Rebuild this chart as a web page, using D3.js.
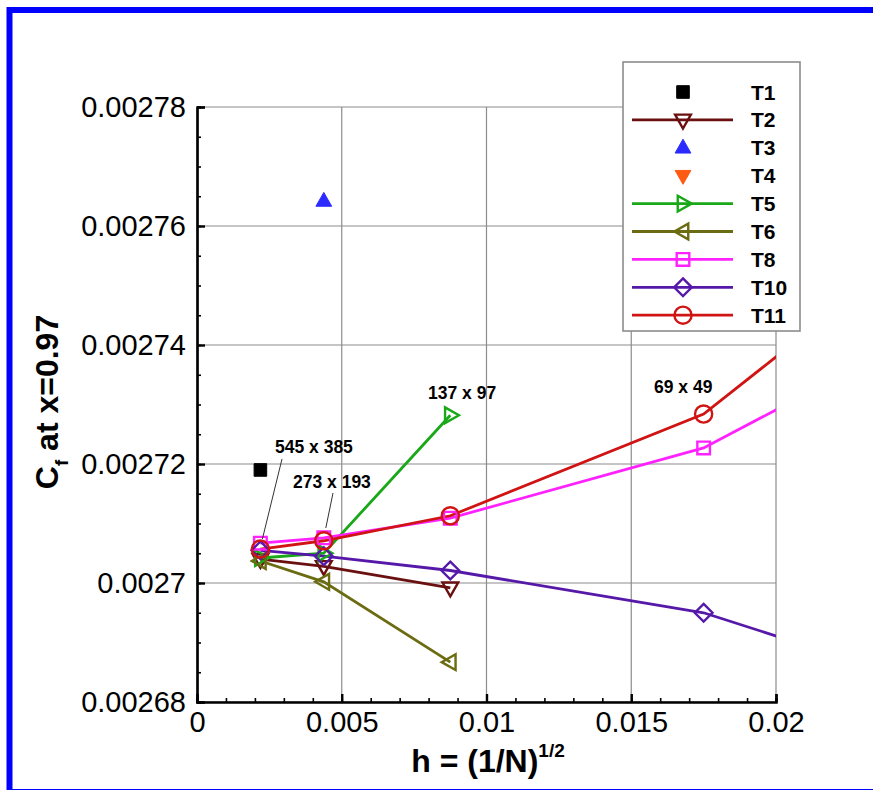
<!DOCTYPE html>
<html>
<head>
<meta charset="utf-8">
<script src="https://cdn.jsdelivr.net/npm/d3@7"></script>
<style>
  html, body { margin: 0; padding: 0; background: #fff; }
  svg { display: block; font-family: "Liberation Sans", Arial, Helvetica, sans-serif; }
</style>
</head>
<body>
<svg id="chart" width="873" height="790"></svg>
<script>
// Grid spacing h = (1/N)^(1/2) for the four meshes, plus a coarser mesh off the right edge
const gridH = [0.00219, 0.00438, 0.00875, 0.0175, 0.035];
const meshLabels = ["545 x 385", "273 x 193", "137 x 97", "69 x 49"];

// Skin friction coefficient at x = 0.97, one array per code
const t1 = [[0.00219, 0.002719]];
const t2 = [[0.00219, 0.0027040], [0.00438, 0.0027028], [0.00875, 0.0026992]];
const t3 = [[0.00438, 0.0027642]];
const t4 = []; // no values inside the plotted range
const t5 = [[0.00219, 0.0027042], [0.00438, 0.0027050], [0.00875, 0.0027282]];
const t6 = [[0.00219, 0.0027037], [0.00438, 0.0027002], [0.00875, 0.0026867]];
const t8 = [[0.00219, 0.0027067], [0.00438, 0.0027076], [0.00875, 0.0027109], [0.0175, 0.0027227], [0.035, 0.0027675]];
const t10 = [[0.00219, 0.0027055], [0.00438, 0.0027045], [0.00875, 0.0027021], [0.0175, 0.0026950], [0.035, 0.0026677]];
const t11 = [[0.00219, 0.0027057], [0.00438, 0.0027071], [0.00875, 0.0027113], [0.0175, 0.0027284], [0.035, 0.0027956]];

const xTicks = [0, 0.005, 0.01, 0.015, 0.02];
const xTickLabels = ["0", "0.005", "0.01", "0.015", "0.02"];
const yTicks = [0.00268, 0.0027, 0.00272, 0.00274, 0.00276, 0.00278];
const yTickLabels = ["0.00268", "0.0027", "0.00272", "0.00274", "0.00276", "0.00278"];

const series = [
  { name: "T1",  data: t1,  color: "#000000", marker: "square",    filled: true,  line: false },
  { name: "T2",  data: t2,  color: "#6a1010", marker: "triDown",   filled: false, line: true },
  { name: "T3",  data: t3,  color: "#2b2bff", marker: "triUp",     filled: true,  line: false },
  { name: "T4",  data: t4,  color: "#ff5a12", marker: "triDown",   filled: true,  line: false },
  { name: "T5",  data: t5,  color: "#18a818", marker: "triRight",  filled: false, line: true },
  { name: "T6",  data: t6,  color: "#6b6b12", marker: "triLeft",   filled: false, line: true },
  { name: "T8",  data: t8,  color: "#ff22ff", marker: "square",    filled: false, line: true },
  { name: "T10", data: t10, color: "#5518a8", marker: "diamond",   filled: false, line: true },
  { name: "T11", data: t11, color: "#d01414", marker: "circle",    filled: false, line: true }
];

const svg = d3.select("#chart");
const margin = { left: 197, right: 776, top: 107, bottom: 702 };

const x = d3.scaleLinear().domain([0, 0.02]).range([margin.left, margin.right]);
const y = d3.scaleLinear().domain([0.00268, 0.00278]).range([margin.bottom, margin.top]);

// page frame
svg.append("rect")
  .attr("x", 9.5).attr("y", 10).attr("width", 900).attr("height", 782)
  .attr("fill", "none").attr("stroke", "#0000ff").attr("stroke-width", 6);

// grid
const grid = svg.append("g").attr("stroke", "#8c8c8c").attr("stroke-width", 1.2);
grid.selectAll("line.h").data(yTicks).join("line")
  .attr("x1", margin.left).attr("x2", margin.right)
  .attr("y1", d => y(d)).attr("y2", d => y(d));
grid.selectAll("line.v").data(xTicks.slice(1)).join("line")
  .attr("x1", d => x(d)).attr("x2", d => x(d))
  .attr("y1", margin.top).attr("y2", margin.bottom);

// axes with inward ticks
const yMinor = d3.range(0.00268, 0.002780001, 0.000005);
const xMinor = d3.range(0, 0.0200001, 0.001);

const yAxis = svg.append("g").attr("transform", `translate(${margin.left},0)`)
  .call(d3.axisLeft(y).tickValues(yMinor).tickSize(-4).tickFormat(""));
const yAxisMajor = svg.append("g").attr("transform", `translate(${margin.left},0)`)
  .call(d3.axisLeft(y).tickValues(yTicks).tickSize(-8).tickPadding(11)
    .tickFormat((d, i) => yTickLabels[i]));
const xAxis = svg.append("g").attr("transform", `translate(0,${margin.bottom})`)
  .call(d3.axisBottom(x).tickValues(xMinor).tickSize(-4).tickFormat(""));
const xAxisMajor = svg.append("g").attr("transform", `translate(0,${margin.bottom})`)
  .call(d3.axisBottom(x).tickValues(xTicks).tickSize(-8).tickPadding(9)
    .tickFormat((d, i) => xTickLabels[i]));

[yAxis, yAxisMajor, xAxis, xAxisMajor].forEach(g => {
  g.select(".domain").attr("stroke", "#000").attr("stroke-width", 2.2);
  g.selectAll(".tick line").attr("stroke", "#000").attr("stroke-width", 1.6);
});
yAxisMajor.selectAll(".tick line").attr("stroke-width", 2.4);
xAxisMajor.selectAll(".tick line").attr("stroke-width", 2.4);
yAxisMajor.selectAll(".tick text").attr("font-size", 29).attr("fill", "#000")
  .attr("font-family", "'Liberation Sans', Arial, sans-serif");
xAxisMajor.selectAll(".tick text").attr("font-size", 29).attr("fill", "#000")
  .attr("font-family", "'Liberation Sans', Arial, sans-serif");

// axis titles
const xt = svg.append("text").attr("x", 488).attr("y", 772)
  .attr("text-anchor", "middle").attr("font-size", 32).attr("font-weight", "bold");
xt.append("tspan").text("h = (1/N)");
xt.append("tspan").attr("dy", -15).attr("font-size", 19).text("1/2");

const yt = svg.append("text")
  .attr("transform", "translate(58,402) rotate(-90)")
  .attr("text-anchor", "middle").attr("font-size", 32).attr("font-weight", "bold");
yt.append("tspan").text("C");
yt.append("tspan").attr("dy", 10).attr("font-size", 19).text("f");
yt.append("tspan").attr("dy", -10).text(" at x=0.97");

// marker shapes
function markerPath(type, s) {
  switch (type) {
    case "square": return `M${-s},${-s}H${s}V${s}H${-s}Z`;
    case "triUp": return `M0,${-s * 1.15}L${s * 1.05},${s * 0.7}L${-s * 1.05},${s * 0.7}Z`;
    case "triDown": return `M0,${s * 1.15}L${s * 1.05},${-s * 0.7}L${-s * 1.05},${-s * 0.7}Z`;
    case "triRight": return `M${s * 1.15},0L${-s * 0.7},${s * 1.05}L${-s * 0.7},${-s * 1.05}Z`;
    case "triLeft": return `M${-s * 1.15},0L${s * 0.7},${s * 1.05}L${s * 0.7},${-s * 1.05}Z`;
    case "diamond": return `M0,${-s * 1.3}L${s * 1.3},0L0,${s * 1.3}L${-s * 1.3},0Z`;
    case "circle": return d3.arc()({ innerRadius: 0, outerRadius: s * 1.3, startAngle: 0, endAngle: 2 * Math.PI });
  }
}
const markerSize = { square: 6.3, triUp: 7.5, triDown: 7.5, triRight: 7.5, triLeft: 7.5, diamond: 6.8, circle: 6.6 };

function drawMarker(g, s, cx, cy) {
  g.append("path")
    .attr("transform", `translate(${cx},${cy})`)
    .attr("d", markerPath(s.marker, markerSize[s.marker]))
    .attr("fill", s.filled ? s.color : "none")
    .attr("stroke", s.color)
    .attr("stroke-width", s.filled ? 1 : 2.4);
}

// data
svg.append("clipPath").attr("id", "plot-clip").append("rect")
  .attr("x", margin.left).attr("y", margin.top)
  .attr("width", margin.right - margin.left).attr("height", margin.bottom - margin.top);

const plot = svg.append("g").attr("clip-path", "url(#plot-clip)");
const line = d3.line().x(d => x(d[0])).y(d => y(d[1]));

series.forEach(s => {
  if (s.line && s.data.length) {
    plot.append("path").datum(s.data).attr("d", line)
      .attr("fill", "none").attr("stroke", s.color).attr("stroke-width", 2.8);
  }
});
series.forEach(s => {
  s.data.forEach(d => drawMarker(plot, s, x(d[0]), y(d[1])));
});

// mesh annotations with leader lines
const notes = svg.append("g").attr("font-size", 17.5).attr("font-weight", "bold").attr("fill", "#000");
const noteSpec = [
  { i: 0, tx: 275, ty: 453, leader: [282, 459, x(gridH[0]) + 2, 539] },
  { i: 1, tx: 293, ty: 488, leader: [333, 493, x(gridH[1]) + 2, 528] },
  { i: 2, tx: 428, ty: 399, leader: null },
  { i: 3, tx: 654, ty: 393, leader: null }
];
noteSpec.forEach(n => {
  notes.append("text").attr("x", n.tx).attr("y", n.ty).text(meshLabels[n.i]);
  if (n.leader) {
    svg.append("line")
      .attr("x1", n.leader[0]).attr("y1", n.leader[1])
      .attr("x2", n.leader[2]).attr("y2", n.leader[3])
      .attr("stroke", "#333").attr("stroke-width", 1);
  }
});

// legend
const lg = svg.append("g");
lg.append("rect").attr("x", 623).attr("y", 62).attr("width", 177).attr("height", 269)
  .attr("fill", "#fff").attr("stroke", "#8c8c8c").attr("stroke-width", 1.6);
series.forEach((s, i) => {
  const cy = 92 + i * 27.9;
  if (s.line) {
    lg.append("line").attr("x1", 632).attr("x2", 733).attr("y1", cy).attr("y2", cy)
      .attr("stroke", s.color).attr("stroke-width", 2.8);
  }
  drawMarker(lg, s, 683, cy);
  lg.append("text").attr("x", 751).attr("y", cy + 7.5)
    .attr("font-size", 21).attr("font-weight", "bold").text(s.name);
});
</script>
</body>
</html>
